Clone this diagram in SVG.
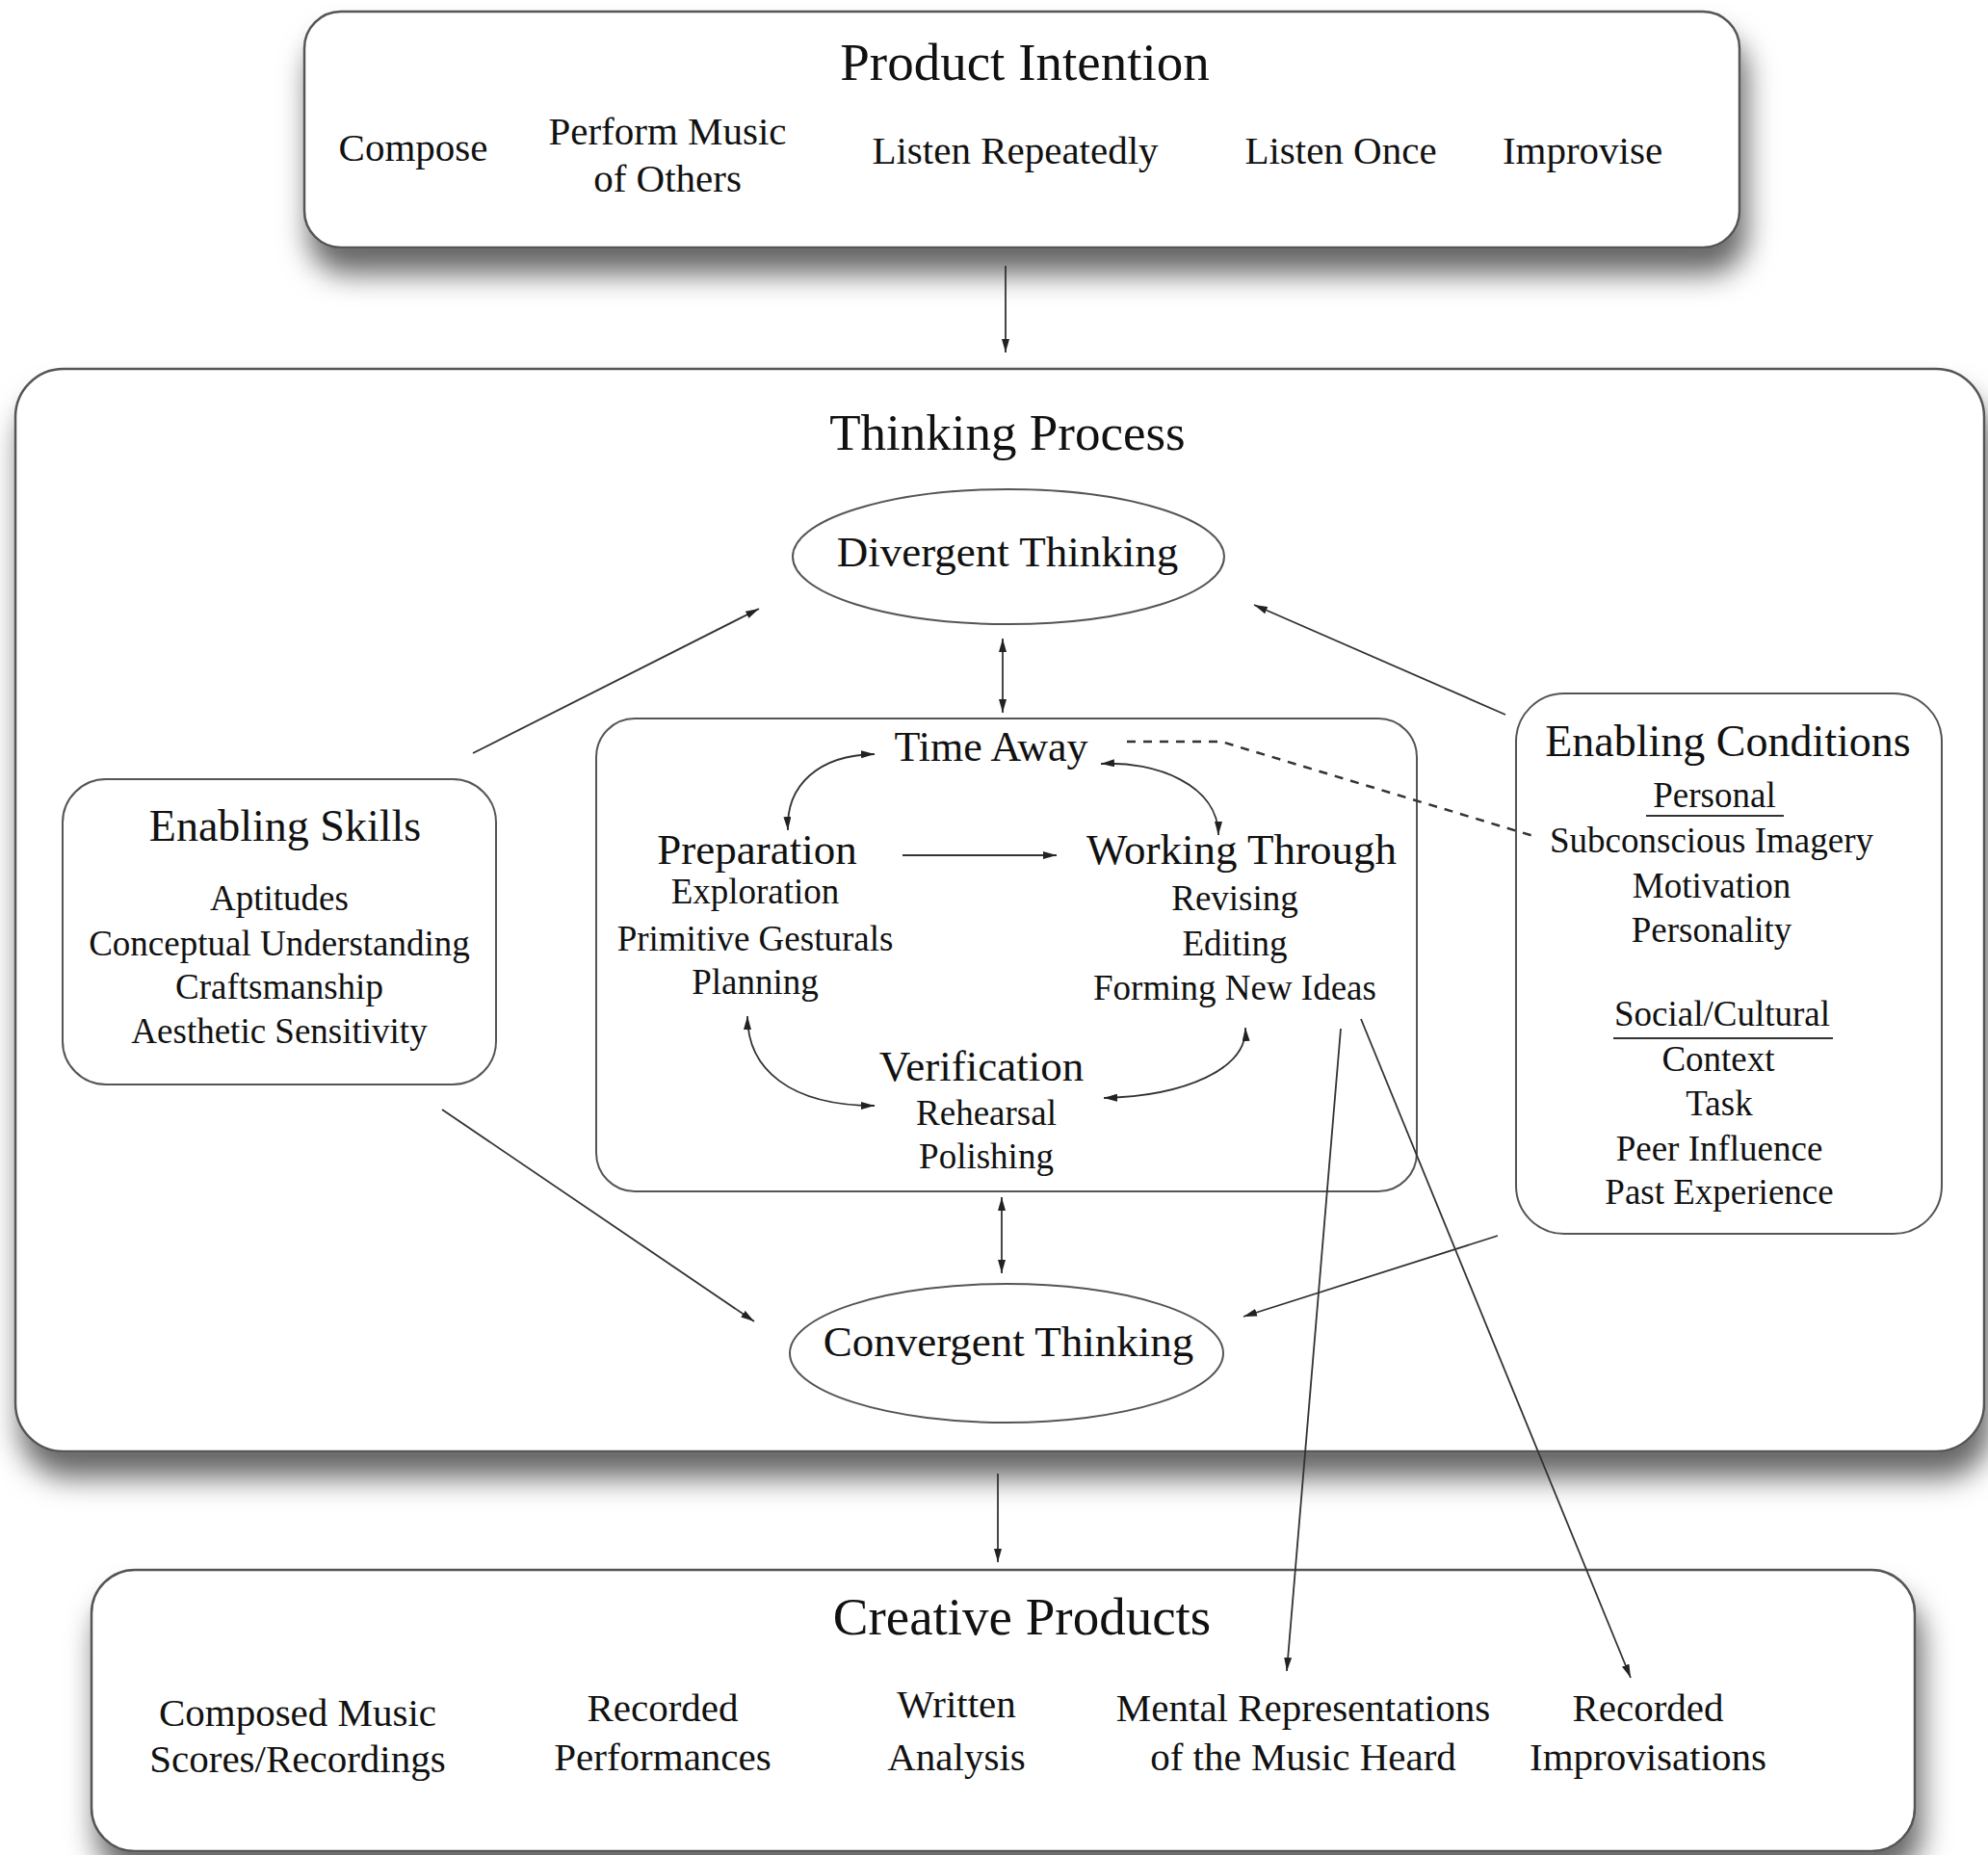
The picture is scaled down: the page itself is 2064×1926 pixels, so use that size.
<svg xmlns="http://www.w3.org/2000/svg" width="2064" height="1926" viewBox="0 0 2064 1926">
<style>
text{font-family:"Liberation Serif","Times New Roman",serif;fill:#111;text-anchor:middle}
.t{font-size:55px}
.h{font-size:45px}
.i{font-size:41px}
.s{font-size:37px}
.box{fill:#fff;stroke:#555;stroke-width:2.5}
.c{fill:none;stroke:#333;stroke-width:1.8}
.d{fill:none;stroke:#333;stroke-width:2.5;stroke-dasharray:9 8}
</style>
<defs>
<filter id="sh" x="-5%" y="-10%" width="112%" height="145%">
<feDropShadow dx="6" dy="26" stdDeviation="15" flood-color="#000" flood-opacity="0.6"/>
</filter>
<marker id="ah" viewBox="0 0 14 8" refX="14" refY="4" markerWidth="14" markerHeight="8" markerUnits="userSpaceOnUse" orient="auto-start-reverse">
<path d="M0,0 L14,4 L0,8 z" fill="#222"/>
</marker>
</defs>
<rect width="2064" height="1926" fill="#fff"/>

<g id="product-intention">
<rect class="box" x="316" y="12" width="1490" height="245" rx="38" filter="url(#sh)"/>
<text class="t" x="1064" y="83">Product Intention</text>
<text class="i" x="429" y="167">Compose</text>
<text class="i" x="693" y="150">Perform Music</text>
<text class="i" x="693" y="199">of Others</text>
<text class="i" x="1054" y="170">Listen Repeatedly</text>
<text class="i" x="1392" y="170">Listen Once</text>
<text class="i" x="1643" y="170">Improvise</text>
</g>

<g id="thinking-process">
<rect class="box" x="16" y="383" width="2044" height="1124" rx="50" filter="url(#sh)"/>
<text class="t" x="1046" y="467" style="font-size:53px">Thinking Process</text>
</g>

<g id="divergent-thinking">
<ellipse class="box" cx="1047" cy="578" rx="224" ry="70" style="stroke-width:2"/>
<text class="h" x="1046" y="588">Divergent Thinking</text>
</g>

<g id="stages">
<rect class="box" x="619" y="746" width="852" height="491" rx="40" style="stroke-width:2"/>
<text class="h" x="1029" y="790" style="font-size:44px">Time Away</text>
<text class="h" x="786" y="897">Preparation</text>
<text class="s" x="784" y="938">Exploration</text>
<text class="s" x="784" y="987">Primitive Gesturals</text>
<text class="s" x="784" y="1032">Planning</text>
<text class="h" x="1289" y="897">Working Through</text>
<text class="s" x="1282" y="945">Revising</text>
<text class="s" x="1282" y="992">Editing</text>
<text class="s" x="1282" y="1038">Forming New Ideas</text>
<text class="h" x="1019" y="1122">Verification</text>
<text class="s" x="1024" y="1168">Rehearsal</text>
<text class="s" x="1024" y="1213">Polishing</text>
</g>

<g id="convergent-thinking">
<ellipse class="box" cx="1045" cy="1405" rx="225" ry="72" style="stroke-width:2"/>
<text class="h" x="1047" y="1408">Convergent Thinking</text>
</g>

<g id="enabling-skills">
<rect class="box" x="65" y="809" width="450" height="317" rx="45" style="stroke-width:2"/>
<text class="h" x="296" y="873" style="font-size:46px">Enabling Skills</text>
<text class="s" x="290" y="945">Aptitudes</text>
<text class="s" x="290" y="992">Conceptual Understanding</text>
<text class="s" x="290" y="1037">Craftsmanship</text>
<text class="s" x="290" y="1083">Aesthetic Sensitivity</text>
</g>

<g id="enabling-conditions">
<rect class="box" x="1574" y="720" width="442" height="561" rx="50" style="stroke-width:2"/>
<text class="h" x="1794" y="785" style="font-size:46px">Enabling Conditions</text>
<text class="s" x="1780" y="838">Personal</text>
<line x1="1709" y1="847" x2="1852" y2="847" stroke="#333" stroke-width="2"/>
<text class="s" x="1777" y="885">Subconscious Imagery</text>
<text class="s" x="1777" y="932">Motivation</text>
<text class="s" x="1777" y="978">Personality</text>
<text class="s" x="1788" y="1065">Social/Cultural</text>
<line x1="1675" y1="1078" x2="1903" y2="1078" stroke="#333" stroke-width="2"/>
<text class="s" x="1784" y="1112">Context</text>
<text class="s" x="1785" y="1158">Task</text>
<text class="s" x="1785" y="1205">Peer Influence</text>
<text class="s" x="1785" y="1250">Past Experience</text>
</g>

<g id="creative-products">
<rect class="box" x="95" y="1630" width="1893" height="292" rx="45" filter="url(#sh)"/>
<text class="t" x="1061" y="1697">Creative Products</text>
<text class="i" x="309" y="1792">Composed Music</text>
<text class="i" x="309" y="1840">Scores/Recordings</text>
<text class="i" x="688" y="1787">Recorded</text>
<text class="i" x="688" y="1838">Performances</text>
<text class="i" x="993" y="1783">Written</text>
<text class="i" x="993" y="1838">Analysis</text>
<text class="i" x="1353" y="1787">Mental Representations</text>
<text class="i" x="1353" y="1838">of the Music Heard</text>
<text class="i" x="1711" y="1787">Recorded</text>
<text class="i" x="1711" y="1838">Improvisations</text>
</g>

<g id="connectors">
<line class="c" x1="1044" y1="276" x2="1044" y2="366" marker-end="url(#ah)"/>
<line class="c" x1="1036" y1="1530" x2="1036" y2="1622" marker-end="url(#ah)"/>
<line class="c" x1="1041" y1="663" x2="1041" y2="740" marker-start="url(#ah)" marker-end="url(#ah)"/>
<line class="c" x1="1040" y1="1243" x2="1040" y2="1322" marker-start="url(#ah)" marker-end="url(#ah)"/>
<line class="c" x1="491" y1="782" x2="788" y2="632" marker-end="url(#ah)"/>
<line class="c" x1="459" y1="1152" x2="783" y2="1372" marker-end="url(#ah)"/>
<line class="c" x1="1563" y1="742" x2="1302" y2="628" marker-end="url(#ah)"/>
<line class="c" x1="1555" y1="1283" x2="1291" y2="1367" marker-end="url(#ah)"/>
<line class="c" x1="937" y1="888" x2="1097" y2="888" marker-end="url(#ah)"/>
<path class="c" d="M818 862 C816 815 850 784 908 783" marker-start="url(#ah)" marker-end="url(#ah)"/>
<path class="c" d="M1143 793 C1200 790 1265 815 1265 867" marker-start="url(#ah)" marker-end="url(#ah)"/>
<path class="c" d="M776 1055 C776 1110 820 1148 908 1148" marker-start="url(#ah)" marker-end="url(#ah)"/>
<path class="c" d="M1146 1140 C1230 1138 1295 1110 1293 1067" marker-start="url(#ah)" marker-end="url(#ah)"/>
<path class="d" d="M1170 770 L1268 770 L1592 868"/>
<line class="c" x1="1392" y1="1068" x2="1336" y2="1735" marker-end="url(#ah)"/>
<line class="c" x1="1413" y1="1058" x2="1693" y2="1742" marker-end="url(#ah)"/>
</g>
</svg>
